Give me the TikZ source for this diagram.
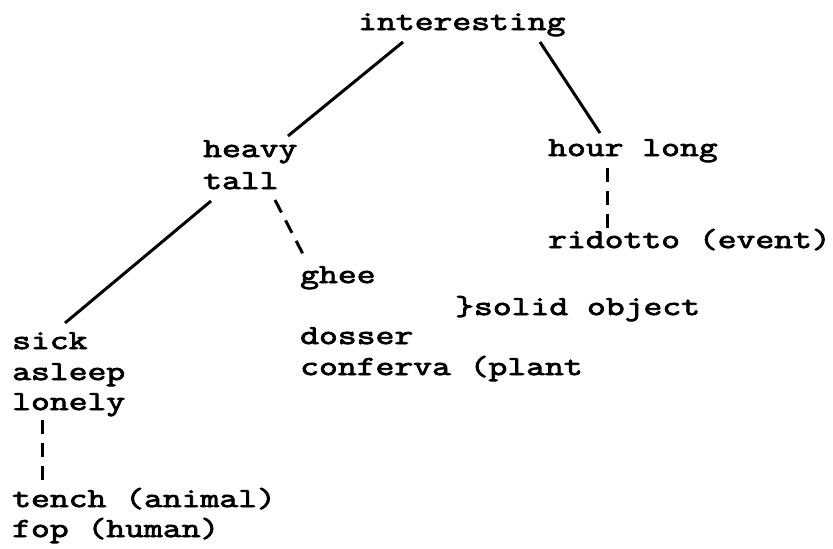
\documentclass[tikz,border=0pt]{standalone}
\usepackage{fontspec}
\newfontfamily\twfont[FakeStretch=1.33,FakeBold=3]{Latin Modern Mono}
\usetikzlibrary{calc}
\begin{document}
\begin{tikzpicture}[x=1pt,y=-1pt,
  txt/.style={anchor=base west, inner sep=0pt, font=\twfont\fontsize{27.5}{30}\selectfont},
  link/.style={line width=3pt},
  dlink/.style={line width=3pt, dash pattern=on 14pt off 9pt}]
\useasboundingbox (0,0) rectangle (833,549);
% nodes
\node[txt] (inter) at (358,30) {interesting};
\node[txt] (heavy) at (203,157) {heavy};
\node[txt] (tall) at (203,189) {tall};
\node[txt] (hour) at (548,156) {hour long};
\node[txt] (ridotto) at (548,248) {ridotto (event)};
\node[txt] (ghee) at (300,283) {ghee};
\node[txt] (solid) at (455,315) {\}solid object};
\node[txt] (dosser) at (300,344) {dosser};
\node[txt] (conferva) at (300,375) {conferva (plant};
\node[txt] (sick) at (12,349) {sick};
\node[txt] (asleep) at (12,380) {asleep};
\node[txt] (lonely) at (12,410) {lonely};
\node[txt] (tench) at (12,507) {tench (animal)};
\node[txt] (fop) at (12,537) {fop (human)};
% connectors
\draw[link] ($(inter.base west)+(45,12)$) -- ($(heavy.base west)+(85,-21)$);
\draw[link] ($(inter.base west)+(182,12)$) -- ($(hour.base west)+(52,-23)$);
\draw[link] ($(tall.base west)+(8,12)$) -- ($(sick.base west)+(53,-26)$);
\draw[dlink] ($(tall.base west)+(72,11)$) -- ($(ghee.base west)+(5,-25)$);
\draw[dlink] ($(hour.base west)+(59,12)$) -- ($(ridotto.base west)+(59,-20)$);
\draw[dlink] ($(lonely.base west)+(30,10)$) -- ($(tench.base west)+(30,-25)$);
\end{tikzpicture}
\end{document}
